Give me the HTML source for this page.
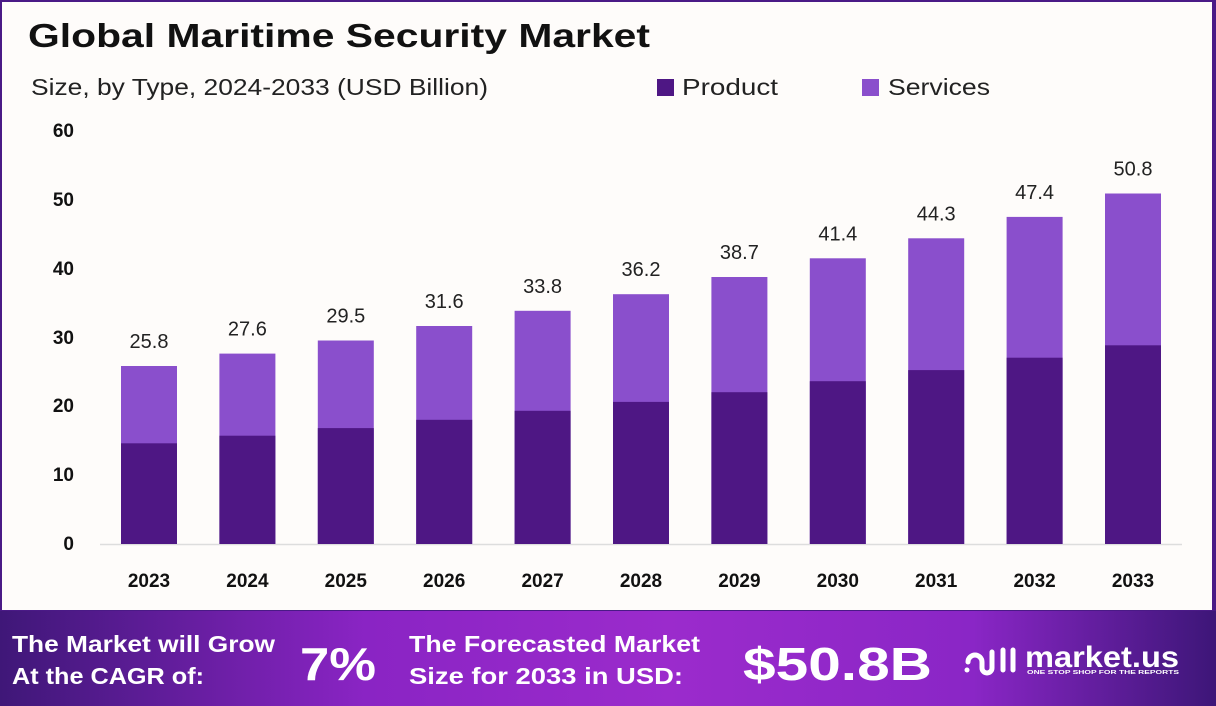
<!DOCTYPE html>
<html><head><meta charset="utf-8"><style>
html,body{margin:0;padding:0;width:1216px;height:706px;overflow:hidden;background:#fff}
</style></head><body>
<svg width="1216" height="706" xmlns="http://www.w3.org/2000/svg" font-family="Liberation Sans, sans-serif">
<defs>
<linearGradient id="ft" x1="0" x2="1" y1="0" y2="0">
<stop offset="0" stop-color="#3f1778"/>
<stop offset="0.3" stop-color="#8a24c4"/>
<stop offset="0.55" stop-color="#9b2bcc"/>
<stop offset="0.8" stop-color="#8a26c6"/>
<stop offset="1" stop-color="#3d1678"/>
</linearGradient>
</defs>
<rect x="0" y="0" width="1216" height="706" fill="#4a1a86"/>
<rect x="2" y="2" width="1210" height="608" fill="#fefcfa"/>
<rect x="0" y="611" width="1216" height="95" fill="url(#ft)"/>
<text x="28" y="47" font-size="33" font-weight="bold" fill="#111" textLength="622" lengthAdjust="spacingAndGlyphs">Global Maritime Security Market</text>
<text x="31" y="95" font-size="23" fill="#222" textLength="457" lengthAdjust="spacingAndGlyphs">Size, by Type, 2024-2033 (USD Billion)</text>
<rect x="657" y="79" width="17" height="17" fill="#4e1784"/>
<text x="682" y="95" font-size="23" fill="#222" textLength="96" lengthAdjust="spacingAndGlyphs">Product</text>
<rect x="862" y="79" width="17" height="17" fill="#8a4fcc"/>
<text x="888" y="95" font-size="23" fill="#222" textLength="102" lengthAdjust="spacingAndGlyphs">Services</text>
<g font-size="19" font-weight="bold" fill="#111" text-anchor="end">
<text x="74" y="137">60</text><text x="74" y="206">50</text><text x="74" y="275">40</text>
<text x="74" y="344">30</text><text x="74" y="412">20</text><text x="74" y="481">10</text><text x="74" y="550">0</text>
</g>
<line x1="100" y1="544.5" x2="1182" y2="544.5" stroke="#ddd" stroke-width="1.5"/>
<g fill="#8a4fcc">
<rect x="121" y="366" width="56" height="178"/>
<rect x="219.4" y="353.6" width="56" height="190.4"/>
<rect x="317.8" y="340.5" width="56" height="203.5"/>
<rect x="416.2" y="326" width="56" height="218"/>
<rect x="514.6" y="310.8" width="56" height="233.2"/>
<rect x="613" y="294.2" width="56" height="249.8"/>
<rect x="711.4" y="277" width="56" height="267"/>
<rect x="809.8" y="258.3" width="56" height="285.7"/>
<rect x="908.2" y="238.3" width="56" height="305.7"/>
<rect x="1006.6" y="216.9" width="56" height="327.1"/>
<rect x="1105" y="193.5" width="56" height="350.5"/>
</g>
<g fill="#4e1784">
<rect x="121" y="443.3" width="56" height="100.7"/>
<rect x="219.4" y="435.7" width="56" height="108.3"/>
<rect x="317.8" y="428.1" width="56" height="115.9"/>
<rect x="416.2" y="419.8" width="56" height="124.2"/>
<rect x="514.6" y="410.8" width="56" height="133.2"/>
<rect x="613" y="401.9" width="56" height="142.1"/>
<rect x="711.4" y="392.2" width="56" height="151.8"/>
<rect x="809.8" y="381.2" width="56" height="162.8"/>
<rect x="908.2" y="370.1" width="56" height="173.9"/>
<rect x="1006.6" y="357.7" width="56" height="186.3"/>
<rect x="1105" y="345.3" width="56" height="198.7"/>
</g>
<g font-size="20" fill="#222" text-anchor="middle">
<text x="149" y="348">25.8</text>
<text x="247.4" y="335.6">27.6</text>
<text x="345.8" y="322.5">29.5</text>
<text x="444.2" y="308">31.6</text>
<text x="542.6" y="292.8">33.8</text>
<text x="641" y="276.2">36.2</text>
<text x="739.4" y="259">38.7</text>
<text x="837.8" y="240.3">41.4</text>
<text x="936.2" y="220.3">44.3</text>
<text x="1034.6" y="198.9">47.4</text>
<text x="1133" y="175.5">50.8</text>
</g>
<g font-size="19" font-weight="bold" fill="#111" text-anchor="middle">
<text x="149" y="587">2023</text>
<text x="247.4" y="587">2024</text>
<text x="345.8" y="587">2025</text>
<text x="444.2" y="587">2026</text>
<text x="542.6" y="587">2027</text>
<text x="641" y="587">2028</text>
<text x="739.4" y="587">2029</text>
<text x="837.8" y="587">2030</text>
<text x="936.2" y="587">2031</text>
<text x="1034.6" y="587">2032</text>
<text x="1133" y="587">2033</text>
</g>
<g fill="#fff" font-weight="bold">
<text x="12" y="652" font-size="23" textLength="263" lengthAdjust="spacingAndGlyphs">The Market will Grow</text>
<text x="12" y="684" font-size="23" textLength="192" lengthAdjust="spacingAndGlyphs">At the CAGR of:</text>
<text x="300" y="680" font-size="46" textLength="76" lengthAdjust="spacingAndGlyphs">7%</text>
<text x="409" y="652" font-size="23" textLength="291" lengthAdjust="spacingAndGlyphs">The Forecasted Market</text>
<text x="409" y="684" font-size="23" textLength="274" lengthAdjust="spacingAndGlyphs">Size for 2033 in USD:</text>
<text x="743" y="680" font-size="46" textLength="189" lengthAdjust="spacingAndGlyphs">$50.8B</text>
<text x="1025" y="667" font-size="30" textLength="154" lengthAdjust="spacingAndGlyphs">market.us</text>
<text x="1027" y="674" font-size="5.5" textLength="152" lengthAdjust="spacingAndGlyphs">ONE STOP SHOP FOR THE REPORTS</text>
</g>
<g fill="none" stroke="#fff" stroke-width="5" stroke-linecap="round">
<path d="M968 662 a7 7 0 0 1 14 0 v6 a5 5 0 0 0 10 0 v-16"/>
<path d="M1003 650 v20 M1013 650 v20"/>
</g>
<circle cx="967" cy="670" r="2.5" fill="#fff"/>
</svg>
</body></html>
